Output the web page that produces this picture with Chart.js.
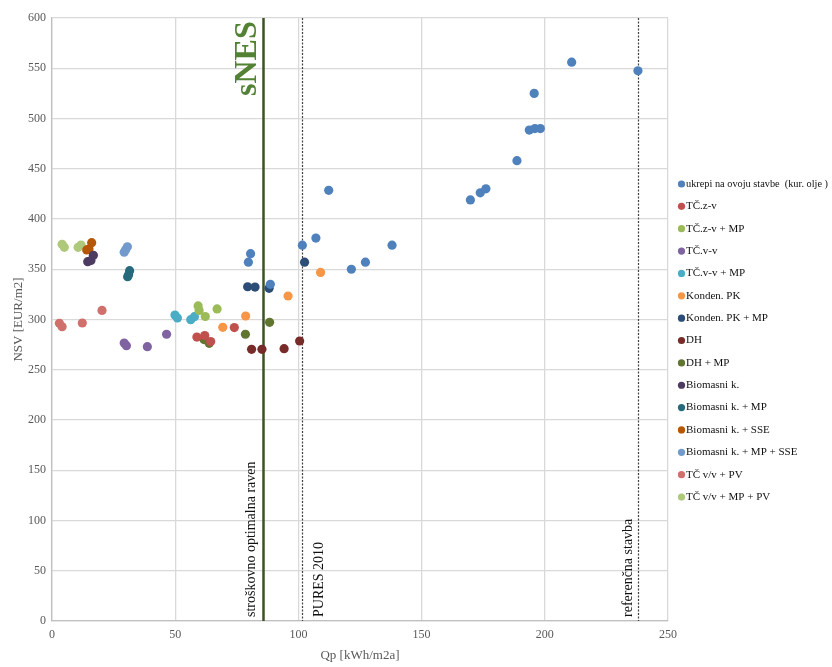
<!DOCTYPE html>
<html>
<head>
<meta charset="utf-8">
<script src="https://cdn.jsdelivr.net/npm/chart.js@4/dist/chart.umd.min.js"></script>
<style>
  html, body { margin: 0; padding: 0; background: #fff; }
  #wrap { width: 832px; height: 667px; }
</style>
</head>
<body>
<div id="wrap"><canvas id="c" width="832" height="667"></canvas></div>
<script>
// Qp [kWh/m2a] vs NSV [EUR/m2], one array of [Qp, NSV] pairs per system variant
const ukrepiOvoj = [[237.8,547.5],[210.9,556],[195.7,525],[193.7,488.5],[196,490],[198.2,490],[188.7,458],[169.8,419],[173.8,426],[176.1,430],[112.3,428.5],[107.1,381],[101.6,374],[138,374],[127.2,357],[121.5,350],[80.6,365.5],[79.7,357],[88.6,335]];
const tcZv = [[58.8,282.5],[62,284],[64.4,278],[74,292]];
const tcZvMp = [[59.3,313.5],[59.7,309],[62.2,303],[67,310.5]];
const tcVv = [[29.3,276.5],[30.2,274],[38.7,273],[46.5,285.3]];
const tcVvMp = [[49.9,304.5],[50.9,301.5],[56.3,299.8],[57.8,302.8]];
const kondenPk = [[69.3,292.2],[78.6,303.5],[95.8,323.4],[109,346.8]];
const kondenPkMp = [[79.4,332.6],[82.4,332.3],[88.1,331],[102.5,357]];
const dh = [[81,270.3],[85.2,270.3],[94.2,271],[100.5,278.6]];
const dhMp = [[61.7,280],[63.8,276.3],[78.5,285.3],[88.3,297.2]];
const biomasa = [[14.5,357.5],[15.8,358.7],[16.8,363.9]];
const biomasaMp = [[30.7,342.6],[31.1,344.5],[31.5,348.6]];
const biomasaSse = [[14.1,369.2],[15,370.1],[16.1,376.4]];
const biomasaMpSse = [[29.3,366.9],[29.9,369.5],[30.6,372.4]];
const tcVvPv = [[3,296.2],[4.1,292.8],[12.3,296.5],[20.3,309]];
const tcVvMpPv = [[4.1,374.8],[5,371.8],[10.6,371.8],[11.8,374.1]];

const seriesNames = [
  'ukrepi na ovoju stavbe  (kur. olje )', 'TČ.z-v', 'TČ.z-v + MP', 'TČ.v-v', 'TČ.v-v + MP',
  'Konden. PK', 'Konden. PK + MP', 'DH', 'DH + MP', 'Biomasni k.',
  'Biomasni k. + MP', 'Biomasni k. + SSE', 'Biomasni k. + MP + SSE', 'TČ v/v + PV', 'TČ v/v + MP + PV'
];
const seriesValues = [ukrepiOvoj, tcZv, tcZvMp, tcVv, tcVvMp, kondenPk, kondenPkMp, dh, dhMp,
  biomasa, biomasaMp, biomasaSse, biomasaMpSse, tcVvPv, tcVvMpPv];
const seriesColors = ['#4F81BD','#C0504D','#9BBB59','#8064A2','#4BACC6','#F79646','#2C4D75','#772C2A',
  '#5F7530','#4D3B62','#276A7C','#B65708','#729ACA','#D0706D','#AFC97A'];

// reference levels on the Qp axis (label offset: baseline distance from the line)
const refLines = [
  { x: 85.6, label: 'stroškovno optimalna raven', color: '#3B5323', width: 2.5, dash: [], offset: -8 },
  { x: 101.6, label: 'PURES 2010', color: '#404040', width: 1.2, dash: [2, 1.5], offset: 21 },
  { x: 237.8, label: 'referenčna stavba', color: '#404040', width: 1.2, dash: [2, 1.5], offset: -6 }
];
const badgeText = 'sNES';

const xTicks = { min: 0, max: 250, step: 50 };
const yTicks = { min: 0, max: 600, step: 50 };

const SERIF = '"Liberation Serif", "Times New Roman", serif';
const TICK_COLOR = '#595959';

const refLinePlugin = {
  id: 'refLines',
  beforeDatasetsDraw(chart) {
    const { ctx, chartArea, scales } = chart;
    ctx.save();
    refLines.forEach(l => {
      const px = Math.round(scales.x.getPixelForValue(l.x)) + 0.5;
      ctx.beginPath();
      ctx.strokeStyle = l.color;
      ctx.lineWidth = l.width;
      ctx.setLineDash(l.dash);
      ctx.moveTo(px, chartArea.top);
      ctx.lineTo(px, chartArea.bottom);
      ctx.stroke();
    });
    ctx.restore();
  },
  afterDatasetsDraw(chart) {
    const { ctx, chartArea, scales } = chart;
    ctx.save();
    ctx.fillStyle = '#111';
    ctx.font = '14px ' + SERIF;
    ctx.textAlign = 'left';
    ctx.textBaseline = 'alphabetic';
    refLines.forEach(l => {
      const px = scales.x.getPixelForValue(l.x);
      ctx.save();
      ctx.translate(px + l.offset, chartArea.bottom - 4);
      ctx.rotate(-Math.PI / 2);
      ctx.fillText(l.label, 0, 0);
      ctx.restore();
    });
    // bold badge beside the cost-optimal line
    const px0 = scales.x.getPixelForValue(refLines[0].x);
    ctx.save();
    ctx.fillStyle = '#548235';
    ctx.font = 'bold 32px ' + SERIF;
    ctx.translate(px0 - 7, chartArea.top + 78);
    ctx.rotate(-Math.PI / 2);
    ctx.fillText(badgeText, 0, 0);
    ctx.restore();
    ctx.restore();
  }
};

const sideLegendPlugin = {
  id: 'sideLegend',
  afterDraw(chart) {
    const { ctx } = chart;
    ctx.save();
    ctx.font = '11px ' + SERIF;
    ctx.textBaseline = 'middle';
    ctx.textAlign = 'left';
    chart.data.datasets.forEach((ds, i) => {
      const y = 184 + i * 22.36;
      ctx.beginPath();
      ctx.fillStyle = ds.backgroundColor;
      ctx.arc(681.5, y, 3.6, 0, Math.PI * 2);
      ctx.fill();
      ctx.fillStyle = '#111';
      ctx.fillText(ds.label, 686, y, 142);
    });
    ctx.restore();
  }
};

new Chart(document.getElementById('c'), {
  type: 'scatter',
  data: {
    datasets: seriesValues.map((pts, i) => ({
      label: seriesNames[i],
      data: pts.map(p => ({ x: p[0], y: p[1] })),
      backgroundColor: seriesColors[i],
      borderColor: seriesColors[i],
      borderWidth: 0,
      pointRadius: 4.6,
      pointHoverRadius: 4.6
    }))
  },
  options: {
    responsive: false,
    animation: false,
    layout: { padding: { left: 7, right: 164, top: 18, bottom: 0 } },
    plugins: { legend: { display: false }, tooltip: { enabled: false } },
    scales: {
      x: {
        type: 'linear',
        min: xTicks.min, max: xTicks.max,
        ticks: { stepSize: xTicks.step, color: TICK_COLOR, font: { family: SERIF, size: 12 }, padding: 7 },
        grid: { color: '#D9D9D9', lineWidth: 1.3, drawTicks: false },
        border: { color: '#BFBFBF', width: 1.3 },
        title: { display: true, text: 'Qp [kWh/m2a]', color: TICK_COLOR, font: { family: SERIF, size: 13 }, padding: { top: 5 } },
        afterFit(s) { s.height = 46; }
      },
      y: {
        type: 'linear',
        min: yTicks.min, max: yTicks.max,
        ticks: { stepSize: yTicks.step, color: TICK_COLOR, font: { family: SERIF, size: 12 }, padding: 6 },
        grid: { color: '#D9D9D9', lineWidth: 1.3, drawTicks: false },
        border: { color: '#BFBFBF', width: 1.3 },
        title: { display: true, text: 'NSV [EUR/m2]', color: TICK_COLOR, font: { family: SERIF, size: 13 }, padding: { bottom: 2 } },
        afterFit(s) { s.width = 45; }
      }
    }
  },
  plugins: [refLinePlugin, sideLegendPlugin]
});
</script>
</body>
</html>
